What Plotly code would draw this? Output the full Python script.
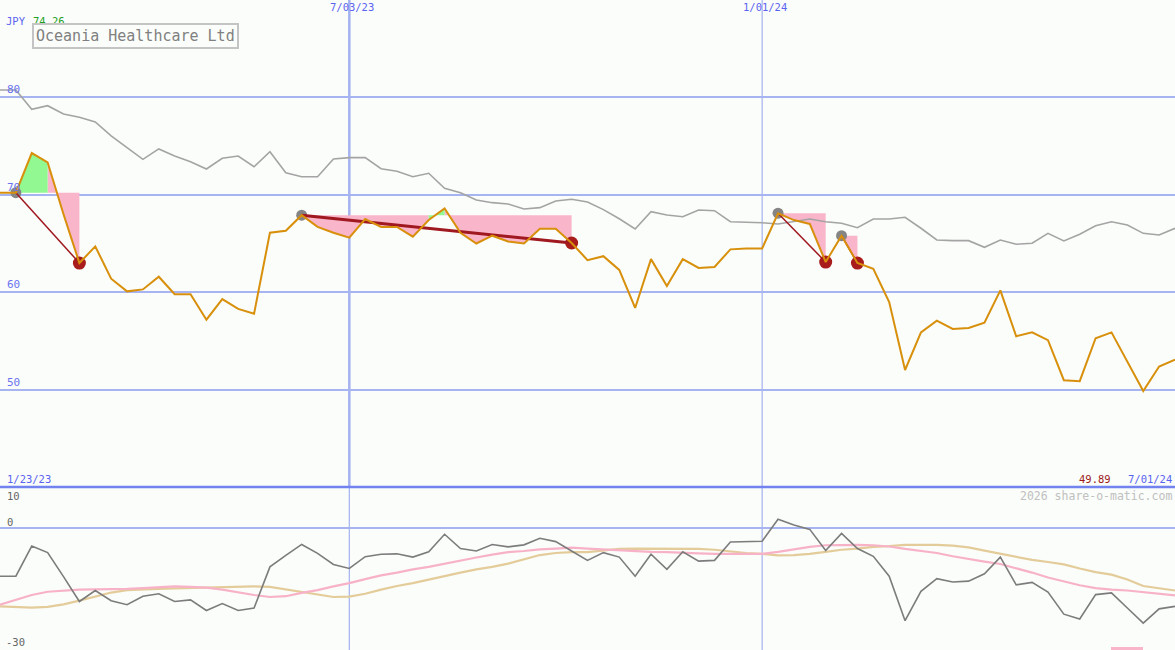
import pandas as pd
import plotly.graph_objects as go

# ---------------- data ----------------
start_date = "2023-01-30"
n_weeks = 75
dates = pd.date_range(start_date, periods=n_weeks, freq="7D")

price = [70.2, 70.2, 74.26, 73.3, 68.0, 63.0, 64.7, 61.4, 60.1, 60.3,
         61.6, 59.8, 59.8, 57.2, 59.3, 58.3, 57.8, 66.1, 66.3, 67.9,
         66.7, 66.1, 65.6, 67.5, 66.7, 66.7, 65.7, 67.4, 68.6, 66.1,
         65.0, 65.8, 65.2, 65.0, 66.5, 66.5, 65.05, 63.3, 63.7, 62.3,
         58.4, 63.4, 60.65, 63.4, 62.5, 62.6, 64.4, 64.5, 64.5, 68.1,
         67.4, 67.0, 63.1, 65.8, 63.0, 62.4, 59.0, 52.05, 55.9, 57.1,
         56.25, 56.35, 56.9, 60.2, 55.5, 55.9, 55.1, 51.0, 50.9, 55.3,
         55.9, 52.9, 49.89, 52.4, 53.1]

index_line = [80.72, 80.72, 78.74, 79.11, 78.26, 77.92, 77.44, 76.01, 74.81, 73.62,
              74.68, 73.96, 73.38, 72.63, 73.72, 73.96, 72.86, 74.40, 72.25, 71.84,
              71.84, 73.65, 73.79, 73.79, 72.66, 72.40, 71.84, 72.19, 70.65, 70.20,
              69.45, 69.18, 69.04, 68.53, 68.67, 69.35, 69.53, 69.25, 68.47, 67.53,
              66.49, 68.26, 67.92, 67.74, 68.43, 68.36, 67.23, 67.18, 67.13, 67.00,
              67.23, 67.51, 67.23, 67.07, 66.62, 67.51, 67.51, 67.68, 66.56, 65.36,
              65.29, 65.29, 64.61, 65.36, 64.92, 65.02, 66.04, 65.26, 65.94, 66.82,
              67.23, 66.89, 66.04, 65.87, 66.56]

momentum = [-11.9, -11.9, -4.5, -6.1, -12.0, -18.1, -15.4, -17.9, -18.9, -16.8,
            -16.2, -18.1, -17.7, -20.3, -18.6, -20.3, -19.7, -9.6, -6.8, -4.1,
            -6.3, -9.0, -10.0, -7.1, -6.5, -6.4, -7.2, -5.9, -1.6, -5.1,
            -5.7, -4.1, -4.7, -4.2, -2.6, -3.4, -5.7, -8.0, -6.1, -7.2,
            -11.9, -6.5, -10.2, -5.9, -8.2, -8.0, -3.5, -3.4, -3.3, 2.1,
            0.7, -0.4, -5.6, -1.4, -5.1, -7.0, -11.9, -22.8, -15.6, -12.5,
            -13.3, -13.1, -11.3, -7.2, -14.0, -13.4, -15.8, -21.2, -22.4, -16.4,
            -16.0, -19.7, -23.4, -19.9, -19.3]

avg_fast = [-18.9, -17.7, -16.5, -15.7, -15.4, -15.2, -15.1, -15.1, -15.0, -14.8,
            -14.6, -14.4, -14.5, -14.7, -15.2, -15.9, -16.5, -17.0, -16.8, -16.0,
            -15.3, -14.4, -13.6, -12.6, -11.7, -11.0, -10.2, -9.6, -8.8, -8.0,
            -7.3, -6.6, -6.0, -5.7, -5.3, -5.1, -4.9, -5.1, -5.3, -5.6,
            -5.8, -5.9, -6.0, -6.2, -6.3, -6.4, -6.4, -6.4, -6.4, -5.9,
            -5.3, -4.7, -4.3, -4.2, -4.2, -4.3, -4.6, -5.2, -5.7, -6.2,
            -7.0, -7.7, -8.3, -8.9, -9.9, -11.0, -12.2, -13.2, -14.1, -14.8,
            -15.2, -15.4, -15.8, -16.2, -16.6]

avg_slow = [-19.3, -19.5, -19.6, -19.4, -18.8, -17.9, -16.9, -15.9, -15.3, -15.1,
            -15.0, -14.9, -14.8, -14.7, -14.6, -14.4, -14.4, -14.5, -15.1, -15.7,
            -16.4, -17.0, -16.9, -16.2, -15.2, -14.3, -13.6, -12.7, -11.9, -11.0,
            -10.2, -9.6, -8.8, -7.8, -6.7, -6.2, -6.0, -6.0, -5.6, -5.2,
            -5.1, -5.1, -5.1, -5.1, -5.2, -5.4, -5.8, -6.2, -6.4, -6.8,
            -6.7, -6.4, -5.9, -5.4, -5.1, -4.7, -4.5, -4.2, -4.2, -4.2,
            -4.4, -4.8, -5.6, -6.4, -7.2, -7.9, -8.4, -9.0, -10.0, -10.9,
            -11.5, -12.7, -14.3, -14.9, -15.4]

# drawdown segments: (start index, end index)
segments = [(1, 5), (19, 36), (49, 52), (53, 54)]
segment_widths = [1.5, 3, 1.5, 1.5]

currency = "JPY"
high_label = "74.26"
low_label = "49.89"
title_text = "Oceania Healthcare Ltd"
first_date_label = "1/23/23"
last_date_label = "7/01/24"
top_date_labels = [("2023-07-03", "7/03/23"), ("2024-01-01", "1/01/24")]
price_grid = [50, 60, 70, 80]
price_grid_labels = ["50", "60", "70", "80"]

# ---------------- styling ----------------
W, H = 1175, 650
BG = "#fafdfa"
GRID = "#a6b4f2"
SEP = "#7282ee"
BLUE_TXT = "#5a64f0"
ORANGE = "#d8900c"
GREEN_FILL = "#92f892"
PINK_FILL = "#f9b5c9"
TREND = "#a01820"
RED_DOT = "#a81c1c"
GRAY_DOT = "#858585"
FONT = "DejaVu Sans Mono"

split = 1 - 487 / H


def px(x):
    return x / W


def py(y):
    return 1 - y / H


fig = go.Figure()

# fills between price and segment start level
green_x, green_y, pink_x, pink_y = [], [], [], []
for s, e in segments:
    lvl = price[s]
    for k in range(s, e):
        qx = [dates[k], dates[k + 1], dates[k + 1], dates[k], None]
        qy = [price[k], price[k + 1], lvl, lvl, None]
        if price[k + 1] > lvl:
            green_x += qx
            green_y += qy
        else:
            pink_x += qx
            pink_y += qy

fig.add_trace(go.Scatter(x=pink_x, y=pink_y, mode="lines", fill="toself",
                         fillcolor=PINK_FILL, line=dict(width=0),
                         hoverinfo="skip", showlegend=False))
fig.add_trace(go.Scatter(x=green_x, y=green_y, mode="lines", fill="toself",
                         fillcolor=GREEN_FILL, line=dict(width=0),
                         hoverinfo="skip", showlegend=False))

# comparison index line
fig.add_trace(go.Scatter(x=dates, y=index_line, mode="lines",
                         line=dict(color="#a4a4a4", width=1.6),
                         showlegend=False))

# segment markers
fig.add_trace(go.Scatter(x=[dates[s] for s, e in segments],
                         y=[price[s] for s, e in segments], mode="markers",
                         marker=dict(color=GRAY_DOT, size=11), showlegend=False))
fig.add_trace(go.Scatter(x=[dates[e] for s, e in segments],
                         y=[price[e] for s, e in segments], mode="markers",
                         marker=dict(color=RED_DOT, size=13), showlegend=False))

# trend lines
for (s, e), w in zip(segments, segment_widths):
    fig.add_trace(go.Scatter(x=[dates[s], dates[e]], y=[price[s], price[e]],
                             mode="lines", line=dict(color=TREND, width=w),
                             showlegend=False))

# price line
fig.add_trace(go.Scatter(x=dates, y=price, mode="lines",
                         line=dict(color=ORANGE, width=2), showlegend=False))

# lower panel
fig.add_trace(go.Scatter(x=dates, y=avg_slow, mode="lines", xaxis="x2", yaxis="y2",
                         line=dict(color="#e4cc9a", width=2.2), showlegend=False))
fig.add_trace(go.Scatter(x=dates, y=avg_fast, mode="lines", xaxis="x2", yaxis="y2",
                         line=dict(color="#f8b2c8", width=2.2), showlegend=False))
fig.add_trace(go.Scatter(x=dates, y=momentum, mode="lines", xaxis="x2", yaxis="y2",
                         line=dict(color="#7c7c7c", width=1.6), showlegend=False))

xr = [dates[0], dates[-1]]
fig.update_layout(
    width=W, height=H, autosize=False,
    margin=dict(l=0, r=0, t=0, b=0, pad=0),
    paper_bgcolor=BG, plot_bgcolor=BG,
    xaxis=dict(range=xr, domain=[0, 1], anchor="y", showgrid=False, zeroline=False,
               showticklabels=False, ticks="", showline=False),
    xaxis2=dict(range=xr, domain=[0, 1], anchor="y2", matches="x", showgrid=False,
                zeroline=False, showticklabels=False, ticks="", showline=False),
    yaxis=dict(domain=[split, 1], range=[40.07, 89.93], tickvals=price_grid,
               showticklabels=False, ticks="", showgrid=True, gridcolor=GRID,
               gridwidth=2, zeroline=False, showline=False),
    yaxis2=dict(domain=[0, split], range=[-30, 10], tickvals=[0],
                showticklabels=False, ticks="", showgrid=True, gridcolor=GRID,
                gridwidth=2, zeroline=False, showline=False),
)

shapes = []
# vertical date lines
for i, (d, lab) in enumerate(top_date_labels):
    wmain = 2.5 if i == 0 else 1.2
    shapes.append(dict(type="line", xref="x", yref="paper", x0=d, x1=d, y0=split, y1=1,
                       line=dict(color="#a4b2f0", width=wmain), layer="below"))
    shapes.append(dict(type="line", xref="x", yref="paper", x0=d, x1=d, y0=0, y1=split,
                       line=dict(color="#a4b2f0", width=1.2), layer="below"))
# panel separator
shapes.append(dict(type="line", xref="paper", yref="paper", x0=0, x1=1, y0=split, y1=split,
                   line=dict(color=SEP, width=2.5)))
# small legend mark
shapes.append(dict(type="rect", xref="paper", yref="paper", x0=px(1111), x1=px(1143),
                   y0=0, y1=py(647), line=dict(width=0), fillcolor=PINK_FILL))
fig.update_layout(shapes=shapes)

ann = []


def txt(text, x, y, color, size=10, xanchor="left", yanchor="middle", **kw):
    d = dict(text=text, x=x, y=y, xref="paper", yref="paper", showarrow=False,
             xanchor=xanchor, yanchor=yanchor, font=dict(family=FONT, size=size, color=color),
             borderpad=0)
    d.update(kw)
    ann.append(d)


txt(currency, px(5), py(21), BLUE_TXT, size=10.5)
txt(high_label, px(32), py(21), "#22a022", size=10.5)
ann.append(dict(text=title_text, x=px(135), y=py(36), xref="paper", yref="paper",
                showarrow=False, xanchor="center", yanchor="middle",
                font=dict(family=FONT, size=15, color="#808080"),
                bordercolor="#c4c4c4", borderwidth=2, borderpad=2, bgcolor=BG))

for v, lab in zip(price_grid, price_grid_labels):
    ann.append(dict(text=lab, x=px(5), y=v, xref="paper", yref="y", showarrow=False,
                    xanchor="left", yanchor="bottom", yshift=-1,
                    font=dict(family=FONT, size=11, color="#6a74f0")))

for d, lab in top_date_labels:
    ann.append(dict(text=lab, x=d, y=1, xref="x", yref="paper", showarrow=False,
                    xanchor="center", yanchor="top", xshift=3, yshift=1,
                    font=dict(family=FONT, size=10.5, color=BLUE_TXT)))

txt(first_date_label, px(6), py(479), BLUE_TXT, size=10.5)
txt(low_label, px(1112), py(479), "#a01818", size=10.5, xanchor="right")
txt(last_date_label, px(1173), py(479), BLUE_TXT, size=10.5, xanchor="right")
txt("2026 share-o-matic.com", px(1173), py(496), "#c0c0c0", size=11.5, xanchor="right")

txt("10", px(6), py(495.5), "#666666", size=10.5)
txt("0", px(6), py(522), "#666666", size=10.5)
txt("-30", px(5), py(642), "#666666", size=10.5)

fig.update_layout(annotations=ann)

fig.write_html(
    "out.html",
    config={"displayModeBar": False},
    post_script="document.body.style.margin='0';document.body.style.padding='0';"
                "document.documentElement.style.overflow='hidden';",
)
